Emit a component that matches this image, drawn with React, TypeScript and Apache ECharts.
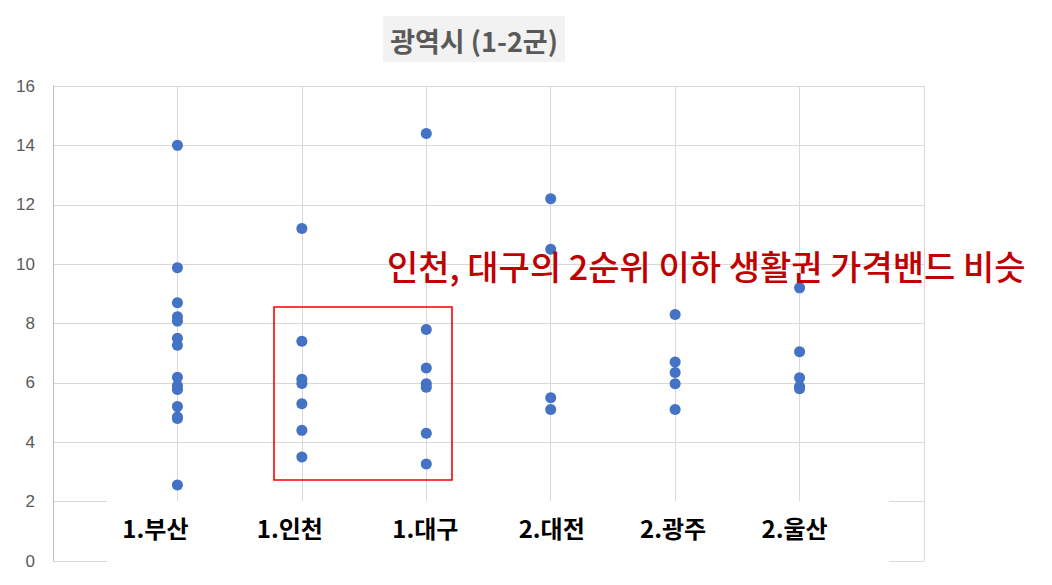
import React, { useEffect, useRef } from "react";
import * as echarts from "echarts";

const categories = ["1.부산", "1.인천", "1.대구", "2.대전", "2.광주", "2.울산"];
const labelShift = [-22, -12, -1, 1, -2, -5];
const busan = [14.0, 9.88, 8.7, 8.23, 8.08, 7.5, 7.27, 6.19, 5.9, 5.78, 5.2, 4.85, 4.8, 2.56];
const incheon = [11.2, 7.4, 6.12, 5.98, 5.3, 4.4, 3.5];
const daegu = [14.4, 7.8, 6.5, 5.97, 5.85, 4.3, 3.27];
const daejeon = [12.2, 10.5, 5.5, 5.1];
const gwangju = [8.3, 6.7, 6.35, 5.97, 5.1];
const ulsan = [9.2, 7.05, 6.17, 5.88, 5.8];
const cityValues = [busan, incheon, daegu, daejeon, gwangju, ulsan];
const yTicks = [0, 2, 4, 6, 8, 10, 12, 14, 16];
const titleText = "광역시 (1-2군)";
const noteText = "인천, 대구의 2순위 이하 생활권 가격밴드 비슷";

export default function App() {
  const ref = useRef<HTMLDivElement>(null);
  useEffect(() => {
    if (!ref.current) return;
    const chart = echarts.init(ref.current, null, { renderer: "svg" });
    const points: number[][] = [];
    cityValues.forEach((arr, i) => arr.forEach((v) => points.push([i + 1, v])));
    const labelBase = {
      fontFamily: "Noto Sans CJK KR",
      fontWeight: "bold",
      fontSize: 24,
      color: "#000000",
    };
    const rich: Record<string, any> = {};
    labelShift.forEach((s, i) => {
      rich["c" + i] = {
        ...labelBase,
        padding: s < 0 ? [0, -2 * s, 0, 0] : [0, 0, 0, 2 * s],
      };
    });
    chart.setOption({
      animation: false,
      backgroundColor: "#ffffff",
      grid: { left: 53, right: 128, top: 86, bottom: 24 },
      xAxis: [
        {
          type: "value",
          min: 0,
          max: categories.length + 1,
          interval: 1,
          z: 0,
          axisLine: { show: false },
          axisTick: { show: false },
          axisLabel: { show: false },
          splitLine: { show: true, lineStyle: { color: "#d9d9d9", width: 1 } },
        },
        {
          type: "value",
          min: 0,
          max: categories.length + 1,
          interval: 1,
          position: "bottom",
          offset: -34,
          z: 5,
          axisLine: { show: false },
          axisTick: { show: false },
          splitLine: { show: false },
          axisLabel: {
            show: true,
            margin: 0,
            verticalAlign: "middle",
            ...labelBase,
            rich,
            formatter: (v: number) =>
              categories[v - 1] ? `{c${v - 1}|${categories[v - 1]}}` : "",
          },
        },
      ],
      yAxis: {
        type: "value",
        min: yTicks[0],
        max: yTicks[yTicks.length - 1],
        interval: 2,
        axisLine: { show: true, lineStyle: { color: "#bfbfbf", width: 1 } },
        axisTick: { show: false },
        axisLabel: {
          margin: 18,
          fontFamily: "Liberation Sans",
          fontSize: 17,
          color: "#595959",
        },
        splitLine: { show: true, lineStyle: { color: "#d9d9d9", width: 1 } },
      },
      series: [
        {
          type: "scatter",
          xAxisIndex: 0,
          data: points,
          symbolSize: 11,
          itemStyle: { color: "#4472C4", opacity: 1 },
          z: 2,
        },
      ],
      graphic: [
        {
          type: "rect",
          z: 1,
          shape: { x: 107, y: 501, width: 782, height: 84 },
          style: { fill: "#ffffff" },
        },
        {
          type: "rect",
          z: 10,
          shape: { x: 383, y: 16, width: 182, height: 46 },
          style: { fill: "#f2f2f2" },
        },
        {
          type: "text",
          z: 11,
          x: 474,
          y: 40,
          style: {
            text: titleText,
            align: "center",
            verticalAlign: "middle",
            fontFamily: "Noto Sans CJK KR",
            fontWeight: "bold",
            fontSize: 27,
            fill: "#595959",
          },
        },
        {
          type: "rect",
          z: 10,
          shape: { x: 274, y: 307, width: 178, height: 173 },
          style: { fill: "none", stroke: "#ff0000", lineWidth: 1.6 },
        },
        {
          type: "text",
          z: 11,
          x: 387,
          y: 265,
          style: {
            text: noteText,
            align: "left",
            verticalAlign: "middle",
            fontFamily: "Noto Sans CJK KR",
            fontWeight: 500,
            fontSize: 34,
            fill: "#c00000",
          },
        },
      ],
    });
    return () => chart.dispose();
  }, []);
  return <div ref={ref} style={{ width: 1052, height: 585, position: "absolute", left: 0, top: 0 }} />;
}
